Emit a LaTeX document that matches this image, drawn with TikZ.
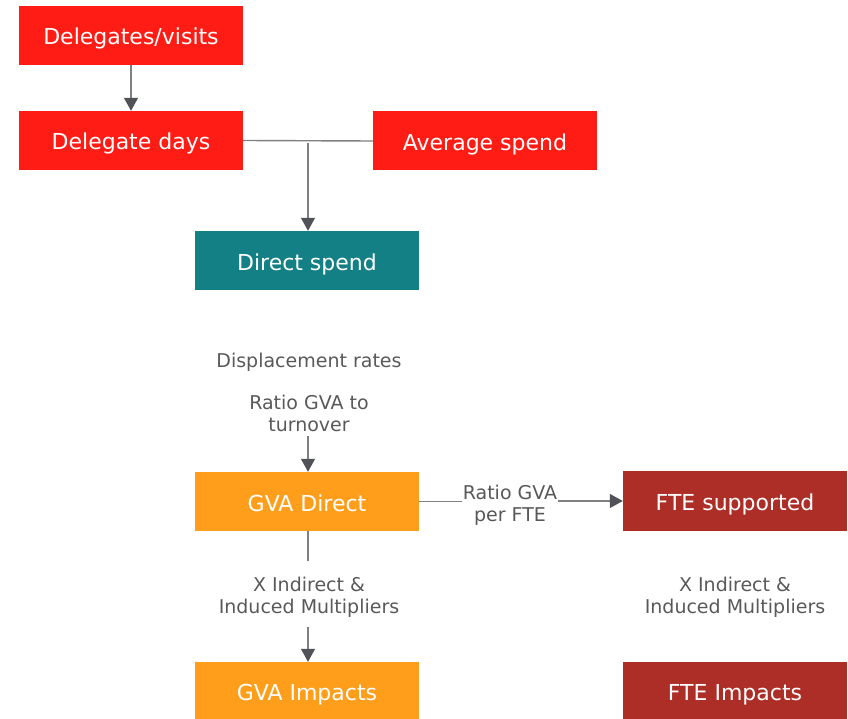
\documentclass[tikz,border=0pt]{standalone}
\usepackage{fontspec}
\setmainfont{DejaVu Sans}
\usetikzlibrary{arrows.meta}
\definecolor{cred}{HTML}{FF1C15}
\definecolor{cteal}{HTML}{138086}
\definecolor{corange}{HTML}{FF9E1B}
\definecolor{cdred}{HTML}{AD2E26}
\definecolor{cline}{HTML}{808080}
\definecolor{chead}{HTML}{505257}
\definecolor{ctext}{HTML}{595959}
\tikzset{
  box/.style={draw=none, minimum width=224pt, minimum height=59pt, inner sep=0pt, text=white, text height=19pt, text depth=0pt, font=\fontsize{22}{26}\selectfont},
  lbl/.style={text=ctext, align=center, inner sep=1pt, font=\fontsize{19}{22}\selectfont},
  conn/.style={draw=cline, line width=1.4pt},
  arr/.style={conn, -{Triangle[width=14pt,length=13pt,fill=chead,color=chead]}},
}
\begin{document}
\begin{tikzpicture}[x=1pt,y=-1pt]
\useasboundingbox (0,0) rectangle (848,719);
\node[box, fill=cred] (dv) at (131,35.5) {Delegates/visits};
\node[box, fill=cred] (dd) at (131,140.5) {Delegate days};
\node[box, fill=cred] (as) at (485,141) {Average spend};
\node[box, fill=cteal] (ds) at (307,260.5) {Direct spend};
\node[box, fill=corange] (gd) at (307,501.5) {GVA Direct};
\node[box, fill=cdred, minimum height=60pt] (fs) at (735,501) {FTE supported};
\node[box, fill=corange, minimum height=57pt] (gi) at (307,690.5) {GVA Impacts};
\node[box, fill=cdred, minimum height=57pt] (fi) at (735,690.5) {FTE Impacts};

\node[lbl] (disp) at (309,362) {Displacement rates};
\node[lbl] (ratio) at (309,413) {Ratio GVA to\\turnover};
\node[lbl, fill=white] (rfte) at (510,505) {Ratio GVA\\per FTE};
\node[lbl] (mult1) at (309,597) {X Indirect \&\\Induced Multipliers};
\node[lbl] (mult2) at (735,597) {X Indirect \&\\Induced Multipliers};

\coordinate (j) at (308,143);
\coordinate (m1top) at (308,561);
\coordinate (m1bot) at (308,627);
\coordinate (rtop) at (308,436);

\draw[arr] (dv) -- (dd);
\draw[conn] (dd.east) -- (as.west);
\draw[arr] (j) -- (j |- ds.north);
\draw[arr] (rtop) -- (rtop |- gd.north);
\draw[conn] (gd.east) -- (rfte.west |- gd.east);
\draw[arr] (rfte.east |- fs.west) -- (fs.west);
\draw[conn] (gd.south -| m1top) -- (m1top);
\draw[arr] (m1bot) -- (m1bot |- gi.north);
\end{tikzpicture}
\end{document}
